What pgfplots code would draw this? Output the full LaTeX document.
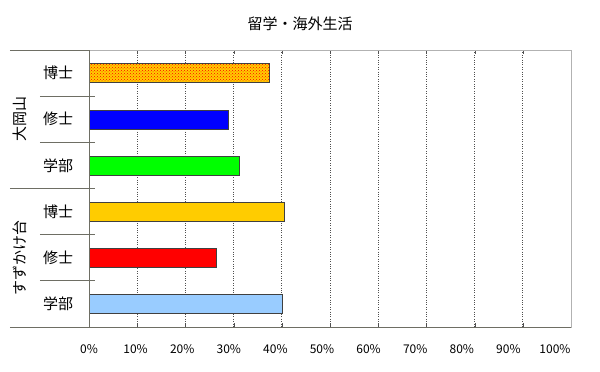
\documentclass[border=0pt]{standalone}
\usepackage{fontspec}
\setmainfont{Noto Sans CJK JP}
\usepackage{pgfplots}
\pgfplotsset{compat=1.18}
\usetikzlibrary{patterns}
\definecolor{framec}{RGB}{110,110,100}
\definecolor{gridc}{RGB}{80,80,80}
\definecolor{cA}{RGB}{255,204,0}
\definecolor{cB}{RGB}{0,0,255}
\definecolor{cC}{RGB}{0,255,0}
\definecolor{cD}{RGB}{255,204,0}
\definecolor{cE}{RGB}{255,0,0}
\definecolor{cF}{RGB}{153,204,255}
\begin{document}
\begin{tikzpicture}
\useasboundingbox (0,0) rectangle (600pt,-372pt);
\node[font=\fontsize{15}{18}\selectfont] at (300pt,-24pt) {留学・海外生活};
\begin{axis}[
  at={(89pt,-327pt)}, anchor=south west,
  scale only axis, width=482pt, height=277pt,
  xmin=0, xmax=100, ymin=-0.5, ymax=5.5, y dir=reverse,
  xtick={0,10,...,100},
  xticklabel={\pgfmathprintnumber{\tick}\%\pgfmathsetmacro\sh{3.2*\ticknum}\hspace*{\sh pt}},
  xticklabel style={font=\fontsize{12}{14}\selectfont, yshift=-14pt},
  /pgf/number format/assume math mode=true,
  ytick=\empty,
  xmajorgrids, grid style={dotted, gridc, line width=0.7pt},
  axis line style={draw=gray!60},
  tick align=inside, major tick length=4pt,
  xtick style={draw=gridc},
  xbar, clip=false,
  every axis plot/.append style={bar width=19pt, bar shift=0pt, draw=gray!50!black, line width=0.5pt},
]
\addplot[fill=cA, postaction={pattern=crosshatch dots, pattern color=red}] coordinates {(37.3,0)};
\addplot[fill=cB] coordinates {(28.8,1)};
\addplot[fill=cC] coordinates {(31.1,2)};
\addplot[fill=cD] coordinates {(40.5,3)};
\addplot[fill=cE] coordinates {(26.5,4)};
\addplot[fill=cF] coordinates {(40.1,5)};
\draw[framec, line width=0.8pt] (axis cs:0,-0.5) -- (axis cs:0,5.5);
\draw[framec, line width=0.8pt] (axis cs:-16.4,-0.5) -- (axis cs:0,-0.5);
\draw[framec, line width=0.8pt] (axis cs:-16.4,5.5) -- (axis cs:100,5.5);
\draw[framec, line width=0.8pt] (axis cs:-16.4,2.5) -- (axis cs:1.24,2.5);
\draw[framec, line width=0.8pt] (axis cs:-10.2,0.5) -- (axis cs:1.24,0.5);
\draw[framec, line width=0.8pt] (axis cs:-10.2,1.5) -- (axis cs:1.24,1.5);
\draw[framec, line width=0.8pt] (axis cs:-10.2,3.5) -- (axis cs:1.24,3.5);
\draw[framec, line width=0.8pt] (axis cs:-10.2,4.5) -- (axis cs:1.24,4.5);
\node[font=\fontsize{15}{18}\selectfont] at (axis cs:-6.4,0) {博士};
\node[font=\fontsize{15}{18}\selectfont] at (axis cs:-6.4,1) {修士};
\node[font=\fontsize{15}{18}\selectfont] at (axis cs:-6.4,2) {学部};
\node[font=\fontsize{15}{18}\selectfont] at (axis cs:-6.4,3) {博士};
\node[font=\fontsize{15}{18}\selectfont] at (axis cs:-6.4,4) {修士};
\node[font=\fontsize{15}{18}\selectfont] at (axis cs:-6.4,5) {学部};
\node[font=\fontsize{15}{18}\selectfont, rotate=90] at (axis cs:-14.3,1) {大岡山};
\node[font=\fontsize{15}{18}\selectfont, rotate=90] at (axis cs:-14.3,4) {すずかけ台};
\end{axis}
\end{tikzpicture}
\end{document}
